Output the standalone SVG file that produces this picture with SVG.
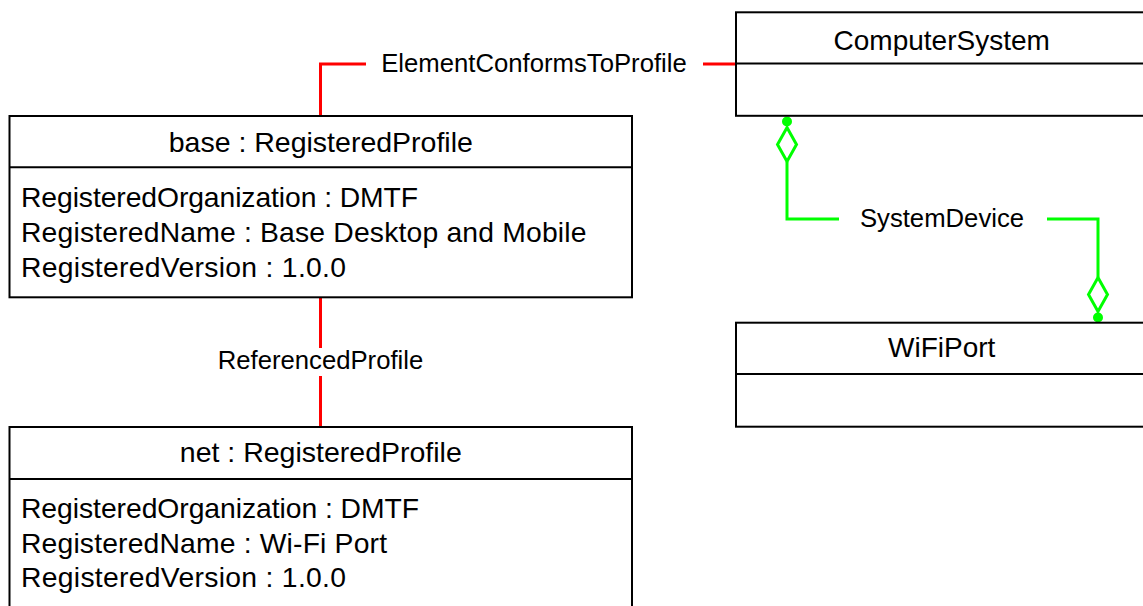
<svg xmlns="http://www.w3.org/2000/svg" width="1143" height="606" viewBox="0 0 1143 606">
<style>
.box{fill:#ffffff;stroke:#000000;stroke-width:2}
.sep{stroke:#000000;stroke-width:2}
.title{font-family:"Liberation Sans",Arial,sans-serif;font-size:28px;fill:#000000;text-anchor:middle}
.ptitle{font-family:"Liberation Sans",Arial,sans-serif;font-size:28.5px;fill:#000000;text-anchor:middle}
.attr{font-family:"Liberation Sans",Arial,sans-serif;font-size:28.3px;fill:#000000}
.lbl{font-family:"Liberation Sans",Arial,sans-serif;font-size:25.7px;fill:#000000;text-anchor:middle}
.red{fill:none;stroke:#ff0000;stroke-width:3}
.green{fill:none;stroke:#00ff00;stroke-width:3}
.dot{fill:#00ff00;stroke:none}
</style>
<defs>
<g id="agg">
<circle class="dot" cx="0" cy="0" r="5"/>
<path class="green" d="M0,6 L9.5,23 L0,40 L-9.5,23 Z"/>
</g>
</defs>
<rect x="0" y="0" width="1143" height="606" fill="#ffffff"/>
<g id="connectors">
<g id="elementConformsToProfile">
<path class="red" d="M320.5,116 L320.5,64 L366,64"/>
<path class="red" d="M703,64 L736,64"/>
<text class="lbl" x="534" y="72">ElementConformsToProfile</text>
</g>
<g id="referencedProfile">
<path class="red" d="M320.5,297 L320.5,348"/>
<path class="red" d="M320.5,376 L320.5,427"/>
<text class="lbl" x="320.5" y="369">ReferencedProfile</text>
</g>
<g id="systemDevice">
<path class="green" d="M787,161.5 L787,219 L839,219"/>
<path class="green" d="M1047,219 L1098,219 L1098,277.5"/>
<use href="#agg" transform="translate(787,121.5)"/>
<use href="#agg" transform="translate(1098,317.5) rotate(180)"/>
<text class="lbl" x="942" y="227">SystemDevice</text>
</g>
</g>
<g id="base">
<rect class="box" x="9.5" y="116" width="622.5" height="181.3"/>
<line class="sep" x1="9.5" y1="167.3" x2="632" y2="167.3"/>
<text class="ptitle" x="320.8" y="152">base : RegisteredProfile</text>
<text class="attr" x="21" y="207" textLength="397" lengthAdjust="spacing">RegisteredOrganization : DMTF</text>
<text class="attr" x="21" y="242" textLength="565.5" lengthAdjust="spacing">RegisteredName : Base Desktop and Mobile</text>
<text class="attr" x="21" y="277" textLength="325" lengthAdjust="spacing">RegisteredVersion : 1.0.0</text>
</g>
<g id="net">
<rect class="box" x="9.5" y="427" width="622.5" height="200"/>
<line class="sep" x1="9.5" y1="479" x2="632" y2="479"/>
<text class="ptitle" x="320.8" y="462">net : RegisteredProfile</text>
<text class="attr" x="21" y="518" textLength="398" lengthAdjust="spacing">RegisteredOrganization : DMTF</text>
<text class="attr" x="21" y="553" textLength="366" lengthAdjust="spacing">RegisteredName : Wi-Fi Port</text>
<text class="attr" x="21" y="587" textLength="325" lengthAdjust="spacing">RegisteredVersion : 1.0.0</text>
</g>
<g id="computerSystem">
<rect class="box" x="736" y="12.3" width="411" height="103.5"/>
<line class="sep" x1="736" y1="63.5" x2="1147" y2="63.5"/>
<text class="title" x="941.7" y="50">ComputerSystem</text>
</g>
<g id="wifiPort">
<rect class="box" x="736" y="322.7" width="411" height="104"/>
<line class="sep" x1="736" y1="374" x2="1147" y2="374"/>
<text class="title" x="941.7" y="357.3">WiFiPort</text>
</g>
</svg>
